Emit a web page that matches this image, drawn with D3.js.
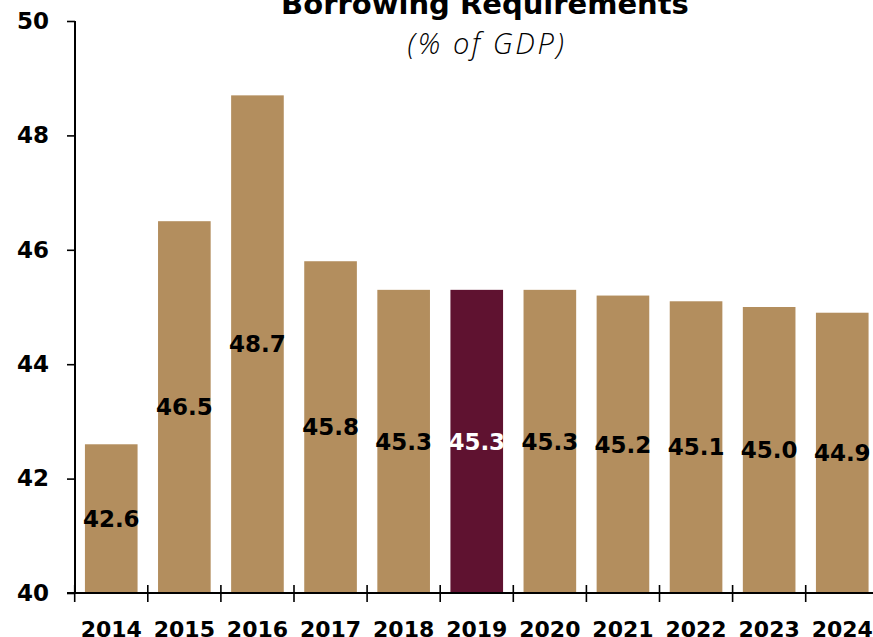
<!DOCTYPE html>
<html>
<head>
<meta charset="utf-8">
<script src="https://cdn.jsdelivr.net/npm/d3@7"></script>
<style>
  html, body { margin: 0; padding: 0; background: #fff; overflow: hidden; }
  svg { display: block; }
  .num { font-family: "DejaVu Sans", sans-serif; font-weight: bold; }
</style>
</head>
<body>
<svg id="chart" width="873" height="637"></svg>
<script>
// Borrowing requirements, % of GDP
const years = ["2014", "2015", "2016", "2017", "2018", "2019", "2020", "2021", "2022", "2023", "2024"];
const values = [42.6, 46.5, 48.7, 45.8, 45.3, 45.3, 45.3, 45.2, 45.1, 45.0, 44.9];
const highlightYear = "2019";
const yTicks = [40, 42, 44, 46, 48, 50];

const titleText = "Borrowing Requirements";
const subtitleText = "(% of GDP)";

const data = years.map((y, i) => ({ year: y, value: values[i] }));

const svg = d3.select("#chart");

const left = 74.7, step = 73.1;
const x = d3.scaleBand()
  .domain(years)
  .range([left, left + step * years.length])
  .paddingInner(0.28)
  .paddingOuter(0.14);

const y = d3.scaleLinear().domain([40, 50]).range([593, 21]);

const gold = "#B38E5E", maroon = "#5F1230";

// bars
svg.append("g").selectAll("rect")
  .data(data)
  .join("rect")
  .attr("x", d => x(d.year))
  .attr("width", x.bandwidth())
  .attr("y", d => y(d.value))
  .attr("height", d => y(40) - y(d.value))
  .attr("fill", d => d.year === highlightYear ? maroon : gold);

// value labels, centred in each bar
svg.append("g").selectAll("text")
  .data(data)
  .join("text")
  .attr("class", "num")
  .attr("x", d => x(d.year) + x.bandwidth() / 2)
  .attr("y", d => (y(d.value) + y(40)) / 2)
  .attr("dy", "0.36em")
  .attr("text-anchor", "middle")
  .attr("font-size", 23)
  .attr("fill", d => d.year === highlightYear ? "#fff" : "#000")
  .text(d => d.value.toFixed(1));

// y axis
const yAxis = svg.append("g")
  .attr("transform", "translate(75,0)")
  .call(d3.axisLeft(y).tickValues(yTicks).tickSize(8).tickPadding(18).tickFormat(d3.format("d")));
yAxis.select(".domain").attr("d", `M0,${y(50)}V${y(40)}`).attr("stroke-width", 2);
yAxis.selectAll(".tick line").attr("stroke-width", 1.6);
yAxis.selectAll(".tick text")
  .attr("class", "num")
  .attr("font-size", 23)
  .attr("fill", "#000");

// x axis: year labels under each bar
const xAxis = svg.append("g")
  .attr("transform", `translate(0,${y(40)})`)
  .call(d3.axisBottom(x).tickSize(0).tickPadding(28));
xAxis.select(".domain").remove();
xAxis.selectAll(".tick text")
  .attr("class", "num")
  .attr("font-size", 22)
  .attr("fill", "#000");

// baseline and boundary ticks between categories
const bounds = years.map(yr => x(yr) - x.step() * x.paddingInner() / 2);
bounds.push(x(years[years.length - 1]) + x.bandwidth() + x.step() * x.paddingInner() / 2);
svg.append("line")
  .attr("x1", 67).attr("x2", 873)
  .attr("y1", y(40)).attr("y2", y(40))
  .attr("stroke", "#000").attr("stroke-width", 2);
svg.append("g").selectAll("line")
  .data(bounds)
  .join("line")
  .attr("x1", d => d).attr("x2", d => d)
  .attr("y1", y(40) - 8).attr("y2", y(40) + 9)
  .attr("stroke", "#000").attr("stroke-width", 1.6);

// titles
svg.append("text")
  .attr("x", 485).attr("y", 14)
  .attr("text-anchor", "middle")
  .attr("font-family", "DejaVu Sans, sans-serif")
  .attr("font-weight", "bold")
  .attr("font-size", 29)
  .text(titleText);

svg.append("text")
  .attr("x", 487).attr("y", 54)
  .attr("text-anchor", "middle")
  .attr("font-family", "'Open Sans', sans-serif")
  .attr("font-weight", 300)
  .attr("font-style", "italic")
  .attr("font-size", 29)
  .attr("letter-spacing", "2.6px")
  .attr("fill", "#000")
  .text(subtitleText);
</script>
</body>
</html>
